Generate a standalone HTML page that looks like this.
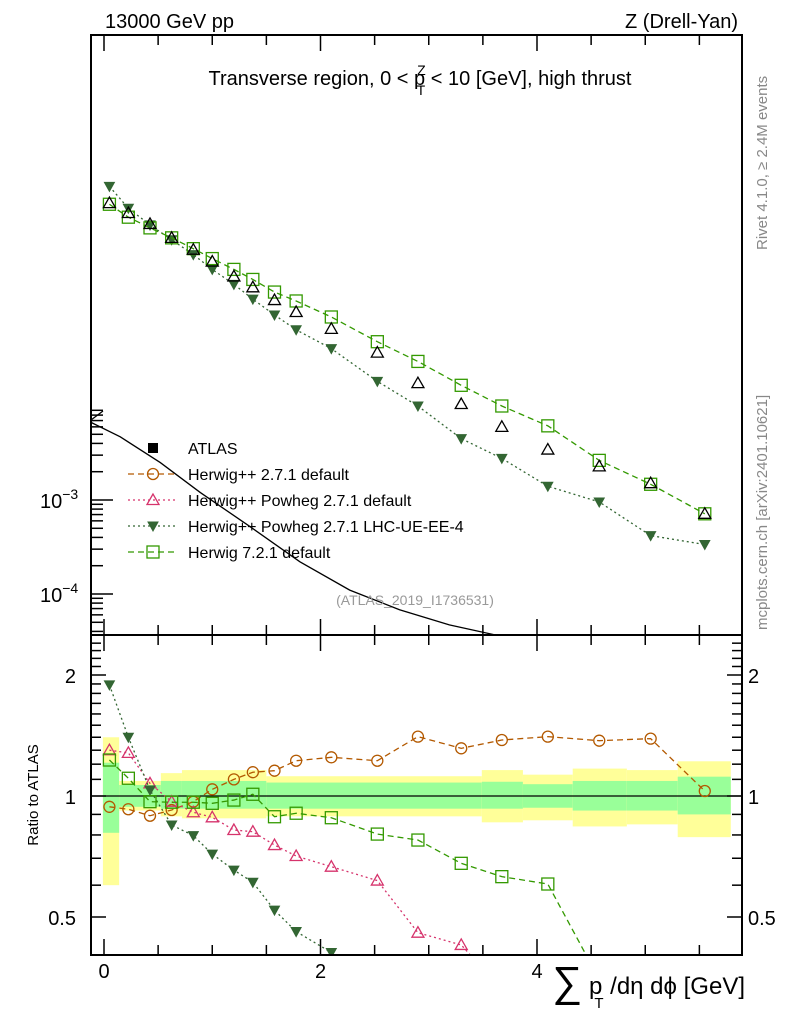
<!DOCTYPE html>
<html><head><meta charset="utf-8">
<style>
html,body{margin:0;padding:0;background:#fff;overflow:hidden;width:786px;height:1024px;}
svg{display:block;font-family:"Liberation Sans",sans-serif;}
</style></head>
<body>
<svg id="chart" width="786" height="1024" viewBox="0 0 786 1024" xmlns="http://www.w3.org/2000/svg">
<g id="bands"></g>
<g id="curve"></g>
<g id="series"></g>
<g id="axes"></g>
<text x="105" y="28" font-size="20">13000 GeV pp</text>
<text x="738" y="28" font-size="20" text-anchor="end">Z (Drell-Yan)</text>
<text x="420" y="85" font-size="20" text-anchor="middle">Transverse region, 0 &lt; p<tspan font-size="14" dy="-10" dx="-8">Z</tspan><tspan font-size="14" dy="20" dx="-9">T</tspan><tspan dy="-10"> &lt; 10 [GeV], high thrust</tspan></text>
<text transform="translate(767,250) rotate(-90)" font-size="15" fill="#888">Rivet 4.1.0, ≥ 2.4M events</text>
<text transform="translate(767,630) rotate(-90)" font-size="15" fill="#888">mcplots.cern.ch [arXiv:2401.10621]</text>
<text x="415" y="605" font-size="14" fill="#999" text-anchor="middle">(ATLAS_2019_I1736531)</text>
<text transform="translate(38,795) rotate(-90)" font-size="15" text-anchor="middle">Ratio to ATLAS</text>
<text x="745" y="994" font-size="24" text-anchor="end"><tspan font-size="42" dy="2">∑</tspan><tspan dy="-2"> p</tspan><tspan font-size="15" dy="14" dx="-8">T</tspan><tspan dy="-14"> /dη dϕ [GeV]</tspan></text>
<g id="legend"></g>
</svg>
<script>
const xCenters=[0.05,0.225,0.425,0.625,0.825,1.0,1.2,1.375,1.575,1.775,2.1,2.525,2.9,3.3,3.675,4.1,4.575,5.05,5.55];
const atlasVals=[1.44,1.13,0.865,0.615,0.46,0.344,0.239,0.183,0.134,0.1,0.0662,0.037,0.0175,0.0105,0.006,0.00344,0.00228,0.00151,0.000713];
const h7Vals=[1.40,1.02,0.785,0.615,0.472,0.37,0.284,0.222,0.163,0.131,0.0885,0.0483,0.0298,0.0166,0.01,0.00615,0.00264,0.00147,0.000713];
const ueVals=[2.17,1.27,0.844,0.587,0.408,0.284,0.197,0.137,0.093,0.0647,0.0408,0.0183,0.01,0.0045,0.00277,0.0014,0.000953,0.000418,0.000336];
const ratioHpp=[0.94,0.927,0.893,0.923,0.968,1.039,1.10,1.146,1.156,1.224,1.248,1.224,1.405,1.314,1.378,1.405,1.373,1.389,1.029];
const ratioPow=[1.30,1.28,1.075,0.968,0.911,0.885,0.823,0.815,0.755,0.709,0.667,0.616,0.457,0.426,0.33,0.3,0.28,0.27,0.3];
const ratioUE=[1.89,1.40,1.035,0.847,0.797,0.717,0.654,0.610,0.520,0.46,0.408,0.3,0.3,0.27,0.25,0.2,0.2,0.2,0.2];
const ratioH7=[1.229,1.107,0.968,0.965,0.965,0.959,0.977,1.01,0.888,0.906,0.883,0.804,0.777,0.68,0.63,0.604,0.35,0.3,0.3];
const bandEdges=[-0.01,0.14,0.525,0.72,1.5,3.49,3.87,4.33,4.83,5.30,5.79];
const yelHi=[1.40,1.09,1.14,1.16,1.12,1.16,1.13,1.17,1.16,1.22];
const yelLo=[0.60,0.92,0.89,0.88,0.89,0.86,0.87,0.84,0.85,0.79];
const grnHi=[1.21,1.065,1.09,1.09,1.08,1.085,1.07,1.09,1.09,1.117];
const grnLo=[0.81,0.94,0.93,0.93,0.93,0.93,0.935,0.92,0.92,0.90];
const curveX=[-0.12,0.15,0.52,0.89,1.35,1.81,2.27,2.73,3.19,3.6];
const curveV=[0.0067,0.0047,0.0025,0.0012,0.00052,0.00022,0.00011,0.000068,0.000047,0.000037];
const xTicks=[0,2,4];

const NS="http://www.w3.org/2000/svg";
const L=91,R=742,MT=35,MB=635,RB=955;
const X=d=>104+108.25*d;
const YM=v=>500-94*(Math.log10(v)+3);
const YR=r=>796-121*Math.log2(r);
function mk(p,tag,attrs){const e=document.createElementNS(NS,tag);for(const k in attrs)e.setAttribute(k,attrs[k]);p.appendChild(e);return e;}
const svg=document.getElementById('chart');
const defs=mk(svg,'defs',{});
const c1=mk(defs,'clipPath',{id:'cm'});mk(c1,'rect',{x:L,y:MT,width:R-L,height:MB-MT});
const c2=mk(defs,'clipPath',{id:'cr'});mk(c2,'rect',{x:L,y:MB,width:R-L,height:RB-MB});

const bands=document.getElementById('bands');
for(let i=0;i<yelHi.length;i++){
 const x0=X(bandEdges[i]),x1=X(bandEdges[i+1]);
 const y=mk(bands,'rect',{x:x0,y:YR(yelHi[i]),width:x1-x0,height:YR(yelLo[i])-YR(yelHi[i]),fill:'#ffff99'});
 
 
 const g=mk(bands,'rect',{x:x0,y:YR(grnHi[i]),width:x1-x0,height:YR(grnLo[i])-YR(grnHi[i]),fill:'#99ff99'});
 
 
}
const one=mk(bands,'line',{x1:L,x2:R,y1:YR(1),y2:YR(1),stroke:'#000','stroke-width':1.2});



const cg=document.getElementById('curve');
const cp=mk(cg,'polyline',{points:curveX.map((d,i)=>X(d)+','+YM(curveV[i])).join(' '),fill:'none',stroke:'#000','stroke-width':1.3,'clip-path':'url(#cm)'});



function marker(g,type,x,y,col){
 let e;
 if(type==='circle')e=mk(g,'circle',{cx:x,cy:y,r:5.5,fill:'none',stroke:col,'stroke-width':1.3});
 else if(type==='tri')e=mk(g,'polygon',{points:`${x},${y-6} ${x-6},${y+4.5} ${x+6},${y+4.5}`,fill:'none',stroke:col,'stroke-width':1.3});
 else if(type==='dtri')e=mk(g,'polygon',{points:`${x-5},${y-4} ${x+5},${y-4} ${x},${y+5}`,fill:col,stroke:col});
 else if(type==='sq')e=mk(g,'rect',{x:x-6,y:y-6,width:12,height:12,fill:'none',stroke:col,'stroke-width':1.3});
 else e=mk(g,'rect',{x:x-5,y:y-5,width:10,height:10,fill:col});
 return e;
}
const sg=document.getElementById('series');
function series(vals,yf,type,col,dash,clip,name){
 const g=mk(sg,'g',{'clip-path':`url(#${clip})`});
 
 
 if(dash){const pl=mk(g,'polyline',{points:vals.map((v,i)=>X(xCenters[i])+','+yf(v)).join(' '),fill:'none',stroke:col,'stroke-width':1.3,'stroke-dasharray':dash});
 
 }
 vals.forEach((v,i)=>{const m=marker(g,type,X(xCenters[i]),yf(v),col);
 
 });
}
const OR='#b35900',PK='#d6336c',DG='#336633',LG='#339900';
series(ueVals,YM,'dtri',DG,'2,3','cm','main-lhc-ue');
series(h7Vals,YM,'sq',LG,'6,4','cm','main-herwig7');
series(atlasVals,YM,'tri','#000',null,'cm','main-atlas');
series(ratioHpp,YR,'circle',OR,'6,4','cr','ratio-herwigpp');
series(ratioPow,YR,'tri',PK,'2,3','cr','ratio-powheg');
series(ratioUE,YR,'dtri',DG,'2,3','cr','ratio-lhc-ue');
series(ratioH7,YR,'sq',LG,'6,4','cr','ratio-herwig7');

const lg=document.getElementById('legend');
const legItems=[['ATLAS','box','#000',null],['Herwig++ 2.7.1 default','circle',OR,'6,4'],['Herwig++ Powheg 2.7.1 default','tri',PK,'2,3'],['Herwig++ Powheg 2.7.1 LHC-UE-EE-4','dtri',DG,'2,3'],['Herwig 7.2.1 default','sq',LG,'6,4']];
legItems.forEach((it,i)=>{
 const y=448+i*26;
 const g=mk(lg,'g',{});
 
 
 if(it[3])mk(g,'line',{x1:128,x2:175,y1:y,y2:y,stroke:it[2],'stroke-width':1.3,'stroke-dasharray':it[3]});
 marker(g,it[1],153,y,it[2]);
 const t=mk(g,'text',{x:188,y:y+6,'font-size':16});t.textContent=it[0];
});

const ax=document.getElementById('axes');
mk(ax,'rect',{x:L,y:MT,width:R-L,height:RB-MT,fill:'none',stroke:'#000','stroke-width':2});
mk(ax,'line',{x1:L,x2:R,y1:MB,y2:MB,stroke:'#000','stroke-width':2});
for(let d=0;d<=5.5;d+=0.5){
 const big=Math.abs(d%2)<1e-6;const len=big?16:10;const x=X(d);
 [[MT,1],[MB,-1],[MB,1],[RB,-1]].forEach(([y0,s])=>mk(ax,'line',{x1:x,x2:x,y1:y0,y2:y0+s*len,stroke:'#000','stroke-width':1.5}));
}
xTicks.forEach(d=>{const t=mk(ax,'text',{x:X(d),y:978,'font-size':20,'text-anchor':'middle'});t.textContent=d;
 
 });
for(let e=-5;e<=-3;e++){for(let k=1;k<10;k++){const v=k*Math.pow(10,e);const y=YM(v);if(y<MT||y>MB)continue;
 mk(ax,'line',{x1:L,x2:L+(k===1?22:12),y1:y,y2:y,stroke:'#000','stroke-width':1.5});}}
mk(ax,'line',{x1:L,x2:L+12,y1:420,y2:411,stroke:'#000','stroke-width':1.3});
[-3,-4].forEach(e=>{const t=mk(ax,'text',{x:40,y:YM(Math.pow(10,e))+8,'font-size':20});t.innerHTML='10<tspan font-size="14" dy="-9">'+(e===-3?'−3':'−4')+'</tspan>';
 
 });
[0.4,0.5,0.6,0.7,0.8,0.9,1,1.1,1.2,1.3,1.4,1.5,1.6,1.7,1.8,1.9,2,2.1,2.2,2.3,2.4].forEach(r=>{
 const y=YR(r);if(y<MB||y>RB)return;const big=(r===0.5||r===1||r===2);
 mk(ax,'line',{x1:L,x2:L+(big?15:10),y1:y,y2:y,stroke:'#000','stroke-width':1.5});
 mk(ax,'line',{x1:R,x2:R-(big?15:10),y1:y,y2:y,stroke:'#000','stroke-width':1.5});
});
[[2,'2'],[1,'1'],[0.5,'0.5']].forEach(([r,s])=>{
 const a=mk(ax,'text',{x:76,y:YR(r)+8,'font-size':20,'text-anchor':'end'});a.textContent=s;
 
 
 const b=mk(ax,'text',{x:748,y:YR(r)+8,'font-size':20});b.textContent=s;
 
 
});
</script>
</body></html>
